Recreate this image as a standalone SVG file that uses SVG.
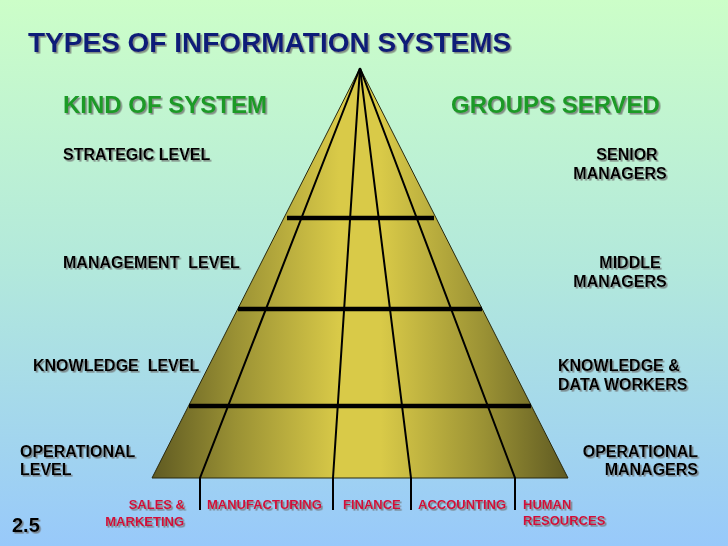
<svg xmlns="http://www.w3.org/2000/svg" width="728" height="546" viewBox="0 0 728 546">
<defs>
<linearGradient id="bg" x1="0" y1="0" x2="0" y2="1">
<stop offset="0" stop-color="#ccfec8"/>
<stop offset="0.5" stop-color="#b2e8dc"/>
<stop offset="1" stop-color="#98c9fa"/>
</linearGradient>
<linearGradient id="pyr" gradientUnits="userSpaceOnUse" x1="152" y1="0" x2="568" y2="0">
<stop offset="0" stop-color="#5f5a22"/>
<stop offset="0.2" stop-color="#9a9134"/>
<stop offset="0.45" stop-color="#d9ca48"/>
<stop offset="0.55" stop-color="#d9ca48"/>
<stop offset="0.8" stop-color="#9a9134"/>
<stop offset="1" stop-color="#5f5a22"/>
</linearGradient>
<filter id="sh" x="-10%" y="-30%" width="120%" height="160%">
<feDropShadow dx="1.6" dy="1.6" stdDeviation="0.5" flood-color="#6a6a6a" flood-opacity="0.75"/>
</filter>
<style>
text{font-family:"Liberation Sans",Arial,sans-serif;font-weight:bold;filter:url(#sh)}
.title{font-size:28px;fill:#0f1c78}
.head{font-size:24px;fill:#1a9a28}
.lvl{font-size:16px;fill:#000}
.dept{font-size:13px;fill:#d0103a}
.num{font-size:20px;fill:#000}
.rad{stroke:#000;stroke-width:2;fill:none}
.bar{stroke:#000;stroke-width:4.5;fill:none}
</style>
</defs>
<rect width="728" height="546" fill="url(#bg)"/>
<g id="title"><text class="title" x="28" y="52">TYPES OF INFORMATION SYSTEMS</text></g>
<g id="kind-header"><text class="head" x="63" y="113">KIND OF SYSTEM</text></g>
<g id="groups-header"><text class="head" x="451" y="113">GROUPS SERVED</text></g>
<g id="pyramid"><polygon points="360,68 568,478 152,478" fill="url(#pyr)" stroke="#2a2a10" stroke-width="1"/></g>
<g id="connectors">
<polyline class="rad" points="360,68 200,478 200,510"/>
<polyline class="rad" points="360,68 333,478 333,510"/>
<polyline class="rad" points="360,68 411,478 411,510"/>
<polyline class="rad" points="360,68 515,478 515,510"/>
<line class="bar" x1="287" y1="218" x2="434" y2="218"/>
<line class="bar" x1="238" y1="309" x2="482" y2="309"/>
<line class="bar" x1="189" y1="406" x2="531" y2="406"/>
</g>
<g id="strategic-level"><text class="lvl" x="63" y="160">STRATEGIC LEVEL</text></g>
<g id="senior-managers"><text class="lvl" x="627" y="160" text-anchor="middle">SENIOR</text><text class="lvl" x="620" y="179" text-anchor="middle">MANAGERS</text></g>
<g id="management-level"><text class="lvl" x="63" y="268" xml:space="preserve">MANAGEMENT  LEVEL</text></g>
<g id="middle-managers"><text class="lvl" x="630" y="268" text-anchor="middle">MIDDLE</text><text class="lvl" x="620" y="287" text-anchor="middle">MANAGERS</text></g>
<g id="knowledge-level"><text class="lvl" x="33" y="371" xml:space="preserve">KNOWLEDGE  LEVEL</text></g>
<g id="knowledge-workers"><text class="lvl" x="558" y="371">KNOWLEDGE &amp;</text><text class="lvl" x="558" y="390">DATA WORKERS</text></g>
<g id="operational-level"><text class="lvl" x="20" y="457">OPERATIONAL</text><text class="lvl" x="20" y="475">LEVEL</text></g>
<g id="operational-managers"><text class="lvl" x="698" y="457" text-anchor="end">OPERATIONAL</text><text class="lvl" x="698" y="475" text-anchor="end">MANAGERS</text></g>
<g id="sales-marketing"><text class="dept" x="185" y="509" text-anchor="end">SALES &amp;</text><text class="dept" x="184" y="526" text-anchor="end">MARKETING</text></g>
<g id="manufacturing"><text class="dept" x="207" y="509">MANUFACTURING</text></g>
<g id="finance"><text class="dept" x="343" y="509">FINANCE</text></g>
<g id="accounting"><text class="dept" x="418" y="509">ACCOUNTING</text></g>
<g id="human-resources"><text class="dept" x="523" y="509">HUMAN</text><text class="dept" x="523" y="525">RESOURCES</text></g>
<g id="slide-number"><text class="num" x="12" y="532">2.5</text></g>
</svg>
